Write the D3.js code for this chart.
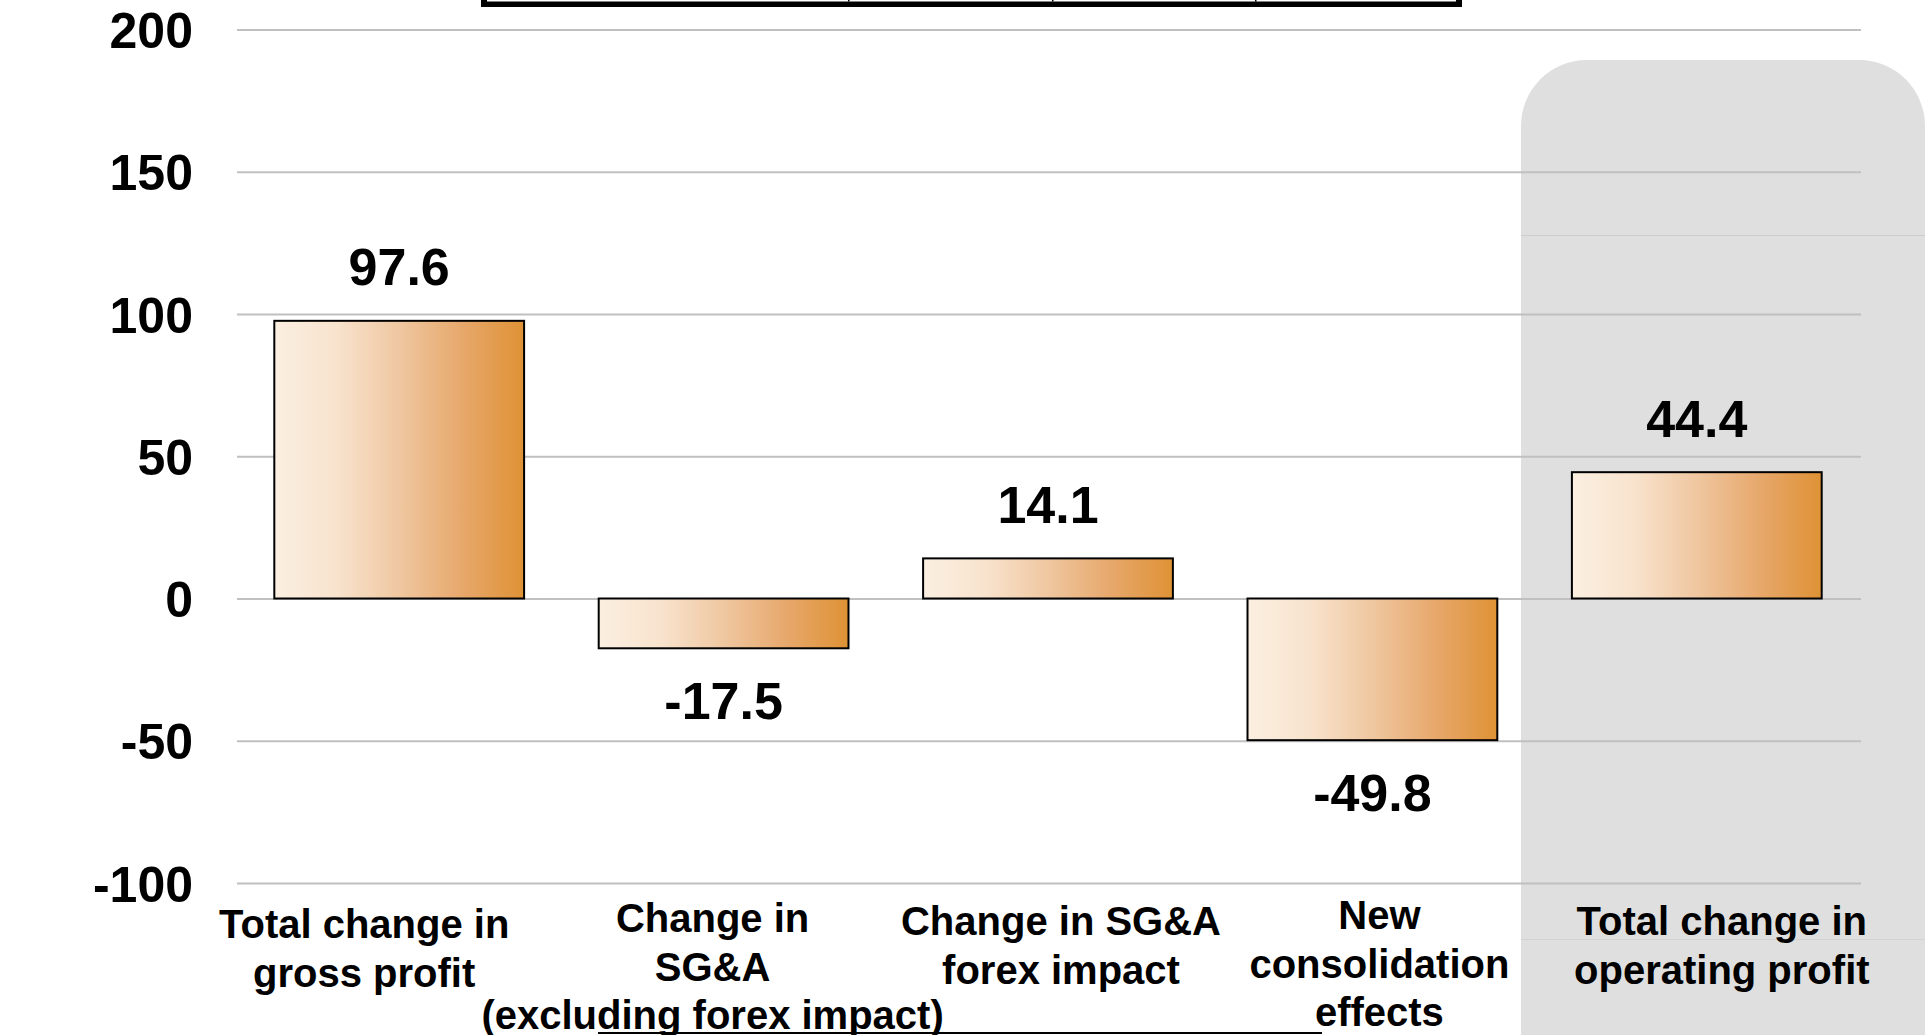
<!DOCTYPE html>
<html>
<head>
<meta charset="utf-8">
<script src="https://cdn.jsdelivr.net/npm/d3@7"></script>
<style>
  html, body { margin: 0; padding: 0; background: #ffffff; overflow: hidden; }
  svg { display: block; }
  text { font-family: "Liberation Sans", Arial, sans-serif; font-weight: bold; fill: #000; }
</style>
</head>
<body>
<svg id="chart" width="1926" height="1035"></svg>
<script>
// Operating profit bridge: drivers of the year-on-year change
const categories = [
  "Total change in gross profit",
  "Change in SG&A (excluding forex impact)",
  "Change in SG&A forex impact",
  "New consolidation effects",
  "Total change in operating profit"
];
const categoryLines = [
  ["Total change in", "gross profit"],
  ["Change in", "SG&A", "(excluding forex impact)"],
  ["Change in SG&A", "forex impact"],
  ["New", "consolidation", "effects"],
  ["Total change in", "operating profit"]
];
const values = [97.6, -17.5, 14.1, -49.8, 44.4];
const valueLabels = ["97.6", "-17.5", "14.1", "-49.8", "44.4"];
const tickValues = [-100, -50, 0, 50, 100, 150, 200];
const tickLabels = ["-100", "-50", "0", "50", "100", "150", "200"];

// label text-box nudges relative to each band centre
const labelShift = [
  { dx: -35, dy: 3 }, { dx: -11, dy: -3 }, { dx: 13, dy: 0 }, { dx: 7, dy: -6 }, { dx: 25, dy: 0 }
];

const svg = d3.select("#chart");
const gridLeft = 237, gridRight = 1861;

const x = d3.scaleBand()
  .domain(categories)
  .range([237, 1859])
  .paddingInner(0.23)
  .paddingOuter(0.115);

const y = d3.scaleLinear()
  .domain([-100, 200])
  .range([883, 29.5]);

// gradient fill used for every bar
const defs = svg.append("defs");
const grad = defs.append("linearGradient")
  .attr("id", "barFill")
  .attr("x1", "0%").attr("x2", "100%").attr("y1", "0%").attr("y2", "0%");
[
  ["0%", "#fbefe1"], ["25%", "#f8e3cd"], ["50%", "#efc7a0"],
  ["75%", "#e7a86c"], ["100%", "#df9235"]
].forEach(([o, c]) => grad.append("stop").attr("offset", o).attr("stop-color", c));

// highlighted panel behind the final total
svg.append("rect")
  .attr("x", 1521).attr("y", 60)
  .attr("width", 404).attr("height", 1040)
  .attr("rx", 66).attr("ry", 66)
  .attr("fill", "#dfdfdf");
svg.append("line")
  .attr("x1", 1521).attr("x2", 1925).attr("y1", 235.5).attr("y2", 235.5)
  .attr("stroke", "#cdcdcd").attr("stroke-width", 1);
svg.append("line")
  .attr("x1", 1521).attr("x2", 1925).attr("y1", 939.5).attr("y2", 939.5)
  .attr("stroke", "#d2d2d2").attr("stroke-width", 1);

// bottom edge of the table above the chart
svg.append("rect").attr("x", 481).attr("y", -2).attr("width", 981).attr("height", 9).attr("fill", "#000");
svg.append("rect").attr("x", 487).attr("y", -2).attr("width", 969).attr("height", 3.5).attr("fill", "#fff");
[848, 1052, 1255].forEach(px =>
  svg.append("rect").attr("x", px).attr("y", -2).attr("width", 1.5).attr("height", 3.5).attr("fill", "#000"));

// horizontal gridlines
const yAxis = d3.axisLeft(y)
  .tickValues(tickValues)
  .tickSize(-(gridRight - gridLeft))
  .tickFormat((d, i) => tickLabels[i]);
const gAxis = svg.append("g")
  .attr("transform", `translate(${gridLeft},0)`)
  .call(yAxis);
gAxis.select(".domain").remove();
gAxis.selectAll(".tick line")
  .attr("stroke", "#c0c0c0")
  .attr("stroke-width", 2);
gAxis.selectAll(".tick text")
  .attr("x", -44)
  .attr("dy", "0.36em")
  .style("font-size", "50px")
  .style("font-family", "'Liberation Sans', Arial, sans-serif")
  .style("font-weight", "bold")
  .attr("fill", "#000");

// bars
svg.append("g").selectAll("rect")
  .data(values)
  .join("rect")
  .attr("x", (d, i) => x(categories[i]))
  .attr("width", x.bandwidth())
  .attr("y", d => y(Math.max(0, d)))
  .attr("height", d => Math.abs(y(d) - y(0)))
  .attr("fill", "url(#barFill)")
  .attr("stroke", "#000")
  .attr("stroke-width", 2);

// value labels
svg.append("g").selectAll("text")
  .data(values)
  .join("text")
  .attr("x", (d, i) => x(categories[i]) + x.bandwidth() / 2)
  .attr("y", d => d >= 0 ? y(d) - 35.5 : y(d) + 71)
  .attr("text-anchor", "middle")
  .style("font-size", "52px")
  .text((d, i) => valueLabels[i]);

// category labels
const catG = svg.append("g");
categoryLines.forEach((lines, i) => {
  const cx = x(categories[i]) + x.bandwidth() / 2 + labelShift[i].dx;
  const t = catG.append("text")
    .attr("text-anchor", "middle")
    .style("font-size", "40px");
  lines.forEach((ln, j) => {
    t.append("tspan")
      .attr("x", cx)
      .attr("y", 921 + labelShift[i].dy + j * 48.5)
      .attr("dy", "0.36em")
      .text(ln);
  });
});

// rule along the bottom edge
svg.append("line")
  .attr("x1", 598).attr("x2", 1322).attr("y1", 1033).attr("y2", 1033)
  .attr("stroke", "#000").attr("stroke-width", 2);
</script>
</body>
</html>
